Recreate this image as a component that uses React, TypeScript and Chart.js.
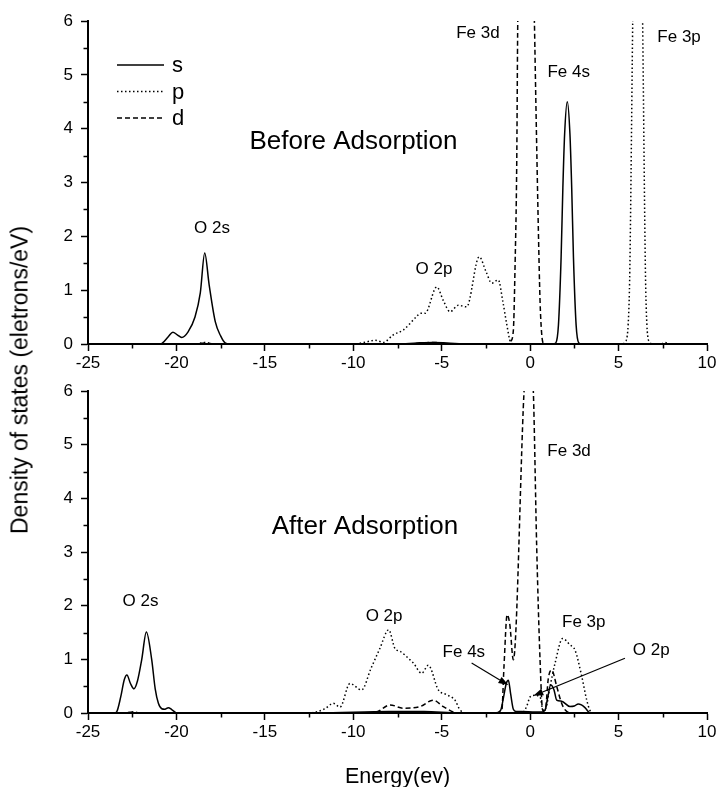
import React, { useEffect, useRef } from 'react';
import { Chart, registerables } from 'chart.js';

Chart.register(...registerables);

const FAMILY = 'Liberation Sans';
const FONT = '"Liberation Sans", Arial, sans-serif';

// ---------- Before adsorption ----------
const beforeSEnergy = [-25, -20.9, -20.75, -20.45, -20.2, -19.95, -19.7, -19.35, -18.95, -18.65, -18.4, -18.15, -17.8, -17.5, -17.25, -17.0, -7.5, -6.4, -5.5, -4.7, -3.5, 1.3, 1.45, 1.6, 1.75, 1.85, 1.95, 2.1, 2.25, 2.35, 2.45, 2.6, 2.75, 2.9, 10];
const beforeSDos = [0, 0, 0.03, 0.14, 0.22, 0.17, 0.12, 0.22, 0.5, 0.95, 1.69, 1.1, 0.41, 0.15, 0.02, 0, 0, 0.02, 0.03, 0.02, 0, 0, 0.02, 0.35, 1.6, 2.9, 3.9, 4.5, 3.9, 2.9, 1.6, 0.35, 0.02, 0, 0];

const beforePEnergy = [-25, -18.9, -18.4, -17.9, -10.0, -9.7, -9.24, -8.77, -8.3, -7.74, -7.17, -6.42, -6.2, -5.94, -5.28, -4.9, -4.53, -4.06, -3.59, -2.88, -2.5, -2.17, -1.8, -1.55, -1.33, -1.1, -0.9, 5.2, 5.38, 5.6, 5.8, 6.08, 6.36, 6.55, 6.74, 6.95, 7.4, 7.63, 7.85, 10];
const beforePDos = [0, 0, 0.03, 0, 0, 0.01, 0.04, 0.07, 0.03, 0.17, 0.26, 0.51, 0.57, 0.57, 1.06, 0.8, 0.6, 0.72, 0.69, 1.62, 1.35, 1.13, 1.19, 0.8, 0.38, 0.03, 0, 0, 0.04, 0.82, 6, 14, 6, 0.82, 0.04, 0, 0, 0.03, 0, 0];

const beforeDEnergy = [-25, -19, -18.4, -17.8, -7, -5.5, -4.5, -3, -1.25, -1.1, -0.95, -0.85, -0.76, -0.7, -0.23, 0.24, 0.34, 0.46, 0.56, 0.65, 0.72, 0.85, 10];
const beforeDDos = [0, 0, 0.02, 0, 0, 0.03, 0, 0, 0, 0.05, 0.25, 1.5, 3.3, 6, 13, 6, 4.2, 2.2, 0.8, 0.2, 0.03, 0, 0];

// ---------- After adsorption ----------
const afterSEnergy = [-25, -23.5, -23.38, -23.15, -22.95, -22.8, -22.6, -22.4, -22.2, -21.96, -21.7, -21.4, -21.2, -21.02, -20.83, -20.65, -20.46, -20.25, -19.98, -12, -8, -6, -4, -2.0, -1.67, -1.5, -1.35, -1.23, -1.1, -0.95, -0.8, -0.5, 0.3, 0.65, 0.84, 1.0, 1.16, 1.35, 1.5, 1.78, 2.25, 2.5, 2.72, 2.9, 3.1, 3.4, 10];
const afterSDos = [0, 0, 0.02, 0.3, 0.62, 0.71, 0.55, 0.45, 0.6, 1.0, 1.51, 1.0, 0.45, 0.18, 0.08, 0.07, 0.1, 0.06, 0, 0, 0.03, 0.03, 0, 0, 0.05, 0.3, 0.55, 0.61, 0.35, 0.07, 0.03, 0.03, 0.02, 0.02, 0.05, 0.3, 0.52, 0.43, 0.24, 0.22, 0.12, 0.13, 0.17, 0.15, 0.1, 0, 0];

const afterPEnergy = [-25, -22.8, -22.5, -22.2, -12.5, -12.0, -11.6, -11.13, -10.75, -10.19, -9.53, -9.0, -8.5, -8.0, -7.64, -7.36, -6.79, -6.6, -6.13, -5.76, -5.19, -4.72, -4.25, -3.97, -3.6, -0.45, -0.2, 0.0, 0.27, 0.56, 0.73, 0.9, 1.1, 1.41, 1.84, 2.25, 2.54, 2.92, 3.2, 3.38, 3.6, 10];
const afterPDos = [0, 0, 0.02, 0, 0, 0.03, 0.08, 0.18, 0.11, 0.55, 0.43, 0.83, 1.2, 1.55, 1.2, 1.15, 0.99, 0.93, 0.74, 0.89, 0.43, 0.34, 0.24, 0.06, 0, 0, 0.12, 0.3, 0.33, 0.3, 0.05, 0.1, 0.45, 0.93, 1.39, 1.27, 1.17, 0.68, 0.24, 0.05, 0, 0];

const afterDEnergy = [-25, -23, -22.5, -22, -11, -9.5, -8.68, -7.92, -7.17, -6.23, -5.48, -4.91, -4.35, -4.0, -1.85, -1.6, -1.48, -1.3, -1.15, -0.95, -0.35, -0.1, 0.18, 0.37, 0.56, 0.71, 0.85, 1.03, 1.22, 1.5, 1.78, 2.0, 2.3, 10];
const afterDDos = [0, 0, 0.02, 0, 0, 0, 0.02, 0.15, 0.09, 0.12, 0.24, 0.12, 0.02, 0, 0, 0.05, 0.86, 1.83, 1.65, 0.99, 5.96, 7.2, 6.0, 3.1, 0.99, 0.05, 0.05, 0.65, 0.8, 0.5, 0.18, 0.05, 0, 0];

// ---------- Axes ----------
const energyMin = -25;
const energyMax = 10;
const dosMin = 0;
const dosMax = 6;
const xMinorTicks = [-22.5, -17.5, -12.5, -7.5, -2.5, 2.5, 7.5];
const yMinorTicks = [0.5, 1.5, 2.5, 3.5, 4.5, 5.5];

// ---------- Annotations (data coordinates) ----------
const beforeLabels = [
  { text: 'Before Adsorption', x: -9.99, y: 3.75, size: 26 },
  { text: 'O 2s', x: -17.99, y: 2.14, size: 17 },
  { text: 'O 2p', x: -5.44, y: 1.39, size: 17 },
  { text: 'Fe 3d', x: -2.95, y: 5.78, size: 17 },
  { text: 'Fe 4s', x: 2.18, y: 5.04, size: 17 },
  { text: 'Fe 3p', x: 8.42, y: 5.69, size: 17 },
];
const afterLabels = [
  { text: 'After Adsorption', x: -9.34, y: 3.46, size: 26 },
  { text: 'O 2s', x: -22.03, y: 2.09, size: 17 },
  { text: 'O 2p', x: -8.26, y: 1.81, size: 17 },
  { text: 'Fe 3d', x: 2.2, y: 4.88, size: 17 },
  { text: 'Fe 4s', x: -3.75, y: 1.14, size: 17 },
  { text: 'Fe 3p', x: 3.03, y: 1.69, size: 17 },
  { text: 'O 2p', x: 6.85, y: 1.16, size: 17 },
];
const afterArrows = [
  { x1: -3.31, y1: 0.93, x2: -1.23, y2: 0.52 },
  { x1: 5.36, y1: 1.02, x2: 0.18, y2: 0.32 },
];
const legendNames = ['s', 'p', 'd'];

const DASH: Record<string, number[]> = { s: [], p: [1.5, 2.5], d: [5, 3] };

function series(name: string, xs: number[], ys: number[]) {
  return {
    label: name,
    data: xs.map((x, i) => ({ x, y: ys[i] })),
    borderColor: '#000',
    borderWidth: 1.5,
    borderDash: DASH[name],
    pointRadius: 0,
    fill: false,
    tension: 0.4,
    cubicInterpolationMode: 'monotone' as const,
  };
}

function makePlugin(labels: any[], arrows: any[], withLegend: boolean, xTitle: string | null) {
  return {
    id: 'annot',
    afterDraw(chart: any) {
      const { ctx, chartArea } = chart;
      const xs = chart.scales.x;
      const ys = chart.scales.y;
      ctx.save();
      ctx.strokeStyle = '#000';
      ctx.fillStyle = '#000';
      ctx.lineWidth = 1.5;
      ctx.setLineDash([]);
      for (const v of xMinorTicks) {
        const px = Math.round(xs.getPixelForValue(v)) + 0.5;
        ctx.beginPath();
        ctx.moveTo(px, chartArea.bottom);
        ctx.lineTo(px, chartArea.bottom + 4.5);
        ctx.stroke();
      }
      for (const v of yMinorTicks) {
        const py = Math.round(ys.getPixelForValue(v)) + 0.5;
        ctx.beginPath();
        ctx.moveTo(chartArea.left, py);
        ctx.lineTo(chartArea.left - 4.5, py);
        ctx.stroke();
      }
      ctx.textAlign = 'center';
      ctx.textBaseline = 'middle';
      for (const l of labels) {
        ctx.font = `${l.size}px ${FONT}`;
        ctx.fillText(l.text, xs.getPixelForValue(l.x), ys.getPixelForValue(l.y));
      }
      ctx.lineWidth = 1.2;
      for (const a of arrows) {
        const x1 = xs.getPixelForValue(a.x1), y1 = ys.getPixelForValue(a.y1);
        const x2 = xs.getPixelForValue(a.x2), y2 = ys.getPixelForValue(a.y2);
        const ang = Math.atan2(y2 - y1, x2 - x1);
        const len = 10, hw = 3.5;
        const bx = x2 - len * Math.cos(ang), by = y2 - len * Math.sin(ang);
        ctx.beginPath();
        ctx.moveTo(x1, y1);
        ctx.lineTo(bx, by);
        ctx.stroke();
        ctx.beginPath();
        ctx.moveTo(x2, y2);
        ctx.lineTo(bx + hw * Math.sin(ang), by - hw * Math.cos(ang));
        ctx.lineTo(bx - hw * Math.sin(ang), by + hw * Math.cos(ang));
        ctx.closePath();
        ctx.fill();
      }
      if (withLegend) {
        ctx.textAlign = 'left';
        ctx.font = `22px ${FONT}`;
        legendNames.forEach((n, i) => {
          const y = chartArea.top + 44 + i * 26.5;
          ctx.lineWidth = 1.5;
          ctx.setLineDash(DASH[n]);
          ctx.beginPath();
          ctx.moveTo(chartArea.left + 29, y);
          ctx.lineTo(chartArea.left + 76, y);
          ctx.stroke();
          ctx.setLineDash([]);
          ctx.fillText(n, chartArea.left + 84, y + 1);
        });
      }
      if (xTitle) {
        ctx.textAlign = 'center';
        ctx.font = `21.5px ${FONT}`;
        ctx.fillText(xTitle, (chartArea.left + chartArea.right) / 2, chart.height - 10);
      }
      ctx.restore();
    },
  };
}

function makeConfig(datasets: any[], plugin: any, xHeight: number) {
  return {
    type: 'line' as const,
    data: { datasets },
    options: {
      animation: false as const,
      responsive: false,
      devicePixelRatio: 1,
      events: [],
      layout: { padding: { top: 21, right: 12, left: 0, bottom: 0 } },
      plugins: { legend: { display: false }, tooltip: { enabled: false }, title: { display: false } },
      scales: {
        x: {
          type: 'linear' as const,
          min: energyMin,
          max: energyMax,
          ticks: { stepSize: 5, color: '#000', padding: 2, font: { family: FAMILY, size: 17 }, maxRotation: 0 },
          grid: { drawOnChartArea: false, drawTicks: true, tickLength: 7, tickColor: '#000', tickWidth: 1.5 },
          border: { display: true, color: '#000', width: 2 },
          afterFit: (s: any) => { s.height = xHeight; },
        },
        y: {
          type: 'linear' as const,
          min: dosMin,
          max: dosMax,
          ticks: { stepSize: 1, color: '#000', padding: 8, font: { family: FAMILY, size: 17 } },
          grid: { drawOnChartArea: false, drawTicks: true, tickLength: 7, tickColor: '#000', tickWidth: 1.5 },
          border: { display: true, color: '#000', width: 2 },
          afterFit: (s: any) => { s.width = 88; },
        },
      },
    },
    plugins: [plugin],
  };
}

export default function App() {
  const topRef = useRef<HTMLCanvasElement>(null);
  const botRef = useRef<HTMLCanvasElement>(null);

  useEffect(() => {
    const top = new Chart(topRef.current as HTMLCanvasElement, makeConfig([
      series('s', beforeSEnergy, beforeSDos),
      series('p', beforePEnergy, beforePDos),
      series('d', beforeDEnergy, beforeDDos),
    ], makePlugin(beforeLabels, [], true, null), 26) as any);
    const bot = new Chart(botRef.current as HTMLCanvasElement, makeConfig([
      series('s', afterSEnergy, afterSDos),
      series('p', afterPEnergy, afterPDos),
      series('d', afterDEnergy, afterDDos),
    ], makePlugin(afterLabels, afterArrows, false, 'Energy(ev)'), 74) as any);
    return () => { top.destroy(); bot.destroy(); };
  }, []);

  return (
    <div style={{ position: 'absolute', left: 0, top: 0, width: 719, height: 787, background: '#fff', overflow: 'hidden' }}>
      <canvas ref={topRef} width={719} height={370} style={{ position: 'absolute', left: 0, top: 0, width: 719, height: 370 }} />
      <canvas ref={botRef} width={719} height={417} style={{ position: 'absolute', left: 0, top: 370, width: 719, height: 417 }} />
      <div style={{ position: 'absolute', left: 20, top: 380, transform: 'translate(-50%, -50%) rotate(-90deg)', fontFamily: FONT, fontSize: 23, color: '#000', whiteSpace: 'nowrap', lineHeight: 1 }}>
        Density of states (eletrons/eV)
      </div>
    </div>
  );
}
